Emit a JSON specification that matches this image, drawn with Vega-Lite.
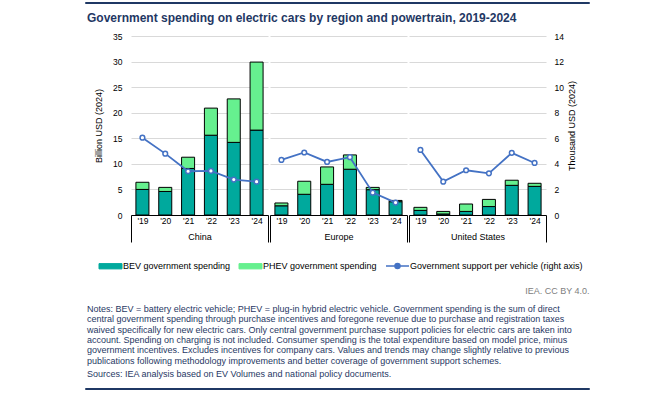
{
  "$schema": "https://vega.github.io/schema/vega-lite/v6.json",
  "background": "white",
  "padding": {"left": 84, "top": 1, "right": 5, "bottom": 2},
  "datasets": {
    "bars": [
      {"region": "China", "yr": "'19", "type": "BEV government spending", "value": 5.0},
      {"region": "China", "yr": "'20", "type": "BEV government spending", "value": 4.6},
      {"region": "China", "yr": "'21", "type": "BEV government spending", "value": 9.1},
      {"region": "China", "yr": "'22", "type": "BEV government spending", "value": 15.6},
      {"region": "China", "yr": "'23", "type": "BEV government spending", "value": 14.2},
      {"region": "China", "yr": "'24", "type": "BEV government spending", "value": 16.6},
      {"region": "China", "yr": "'19", "type": "PHEV government spending", "value": 1.4},
      {"region": "China", "yr": "'20", "type": "PHEV government spending", "value": 0.8},
      {"region": "China", "yr": "'21", "type": "PHEV government spending", "value": 2.2},
      {"region": "China", "yr": "'22", "type": "PHEV government spending", "value": 5.3},
      {"region": "China", "yr": "'23", "type": "PHEV government spending", "value": 8.5},
      {"region": "China", "yr": "'24", "type": "PHEV government spending", "value": 13.3},
      {"region": "Europe", "yr": "'19", "type": "BEV government spending", "value": 1.8},
      {"region": "Europe", "yr": "'20", "type": "BEV government spending", "value": 4.05},
      {"region": "Europe", "yr": "'21", "type": "BEV government spending", "value": 6.0},
      {"region": "Europe", "yr": "'22", "type": "BEV government spending", "value": 8.95},
      {"region": "Europe", "yr": "'23", "type": "BEV government spending", "value": 4.95},
      {"region": "Europe", "yr": "'24", "type": "BEV government spending", "value": 2.6},
      {"region": "Europe", "yr": "'19", "type": "PHEV government spending", "value": 0.55},
      {"region": "Europe", "yr": "'20", "type": "PHEV government spending", "value": 2.55},
      {"region": "Europe", "yr": "'21", "type": "PHEV government spending", "value": 3.4},
      {"region": "Europe", "yr": "'22", "type": "PHEV government spending", "value": 2.8},
      {"region": "Europe", "yr": "'23", "type": "PHEV government spending", "value": 0.45},
      {"region": "Europe", "yr": "'24", "type": "PHEV government spending", "value": 0.25},
      {"region": "United States", "yr": "'19", "type": "BEV government spending", "value": 0.9},
      {"region": "United States", "yr": "'20", "type": "BEV government spending", "value": 0.2},
      {"region": "United States", "yr": "'21", "type": "BEV government spending", "value": 0.7},
      {"region": "United States", "yr": "'22", "type": "BEV government spending", "value": 1.65},
      {"region": "United States", "yr": "'23", "type": "BEV government spending", "value": 5.8},
      {"region": "United States", "yr": "'24", "type": "BEV government spending", "value": 5.6},
      {"region": "United States", "yr": "'19", "type": "PHEV government spending", "value": 0.6},
      {"region": "United States", "yr": "'20", "type": "PHEV government spending", "value": 0.5},
      {"region": "United States", "yr": "'21", "type": "PHEV government spending", "value": 1.45},
      {"region": "United States", "yr": "'22", "type": "PHEV government spending", "value": 1.4},
      {"region": "United States", "yr": "'23", "type": "PHEV government spending", "value": 1.0},
      {"region": "United States", "yr": "'24", "type": "PHEV government spending", "value": 0.6}
    ],
    "support": [
      {"region": "China", "yr": "'19", "support": 6.05},
      {"region": "China", "yr": "'20", "support": 4.8},
      {"region": "China", "yr": "'21", "support": 3.42},
      {"region": "China", "yr": "'22", "support": 3.45},
      {"region": "China", "yr": "'23", "support": 2.77},
      {"region": "China", "yr": "'24", "support": 2.61},
      {"region": "Europe", "yr": "'19", "support": 4.31},
      {"region": "Europe", "yr": "'20", "support": 4.89},
      {"region": "Europe", "yr": "'21", "support": 4.15},
      {"region": "Europe", "yr": "'22", "support": 4.52},
      {"region": "Europe", "yr": "'23", "support": 1.75},
      {"region": "Europe", "yr": "'24", "support": 0.97},
      {"region": "United States", "yr": "'19", "support": 5.09},
      {"region": "United States", "yr": "'20", "support": 2.61},
      {"region": "United States", "yr": "'21", "support": 3.5},
      {"region": "United States", "yr": "'22", "support": 3.26},
      {"region": "United States", "yr": "'23", "support": 4.86},
      {"region": "United States", "yr": "'24", "support": 4.07}
    ]
  },
  "spacing": 8,
  "resolve": {"scale": {"color": "independent"}, "legend": {"color": "independent"}},
  "vconcat": [
    {
      "width": 504, "height": 1,
      "data": {"values": []},
      "mark": {"type": "rule"},
      "encoding": {},
      "view": {"stroke": "#1f3864", "strokeWidth": 1}
    },
    {
      "title": {
        "text": "Government spending on electric cars by region and powertrain, 2019-2024",
        "anchor": "start", "frame": "bounds", "fontSize": 12, "fontWeight": "bold",
        "color": "#1f3864", "offset": 7, "dx": 2
      },
      "spacing": 0,
      "hconcat": [
        {
          "width": 9, "height": 179,
          "data": {"values": []},
          "mark": {"type": "rule"},
          "encoding": {}
        },
        {
          "width": 137, "height": 179,
          "layer": [
            {
              "data": {"name": "bars"},
              "transform": [{"filter": "datum.region === 'China'"}],
              "mark": {"type": "bar", "stroke": "black", "strokeWidth": 1, "width": {"band": 0.57}},
              "encoding": {
                "x": {"field": "yr", "type": "ordinal", "scale": {"paddingInner": 0, "paddingOuter": 0},
                  "axis": {"title": "China", "labelAngle": 0, "labelPadding": -26, "domainColor": "black", "ticks": true, "tickBand": "extent", "tickSize": 27, "tickColor": "black", "tickWidth": 1,
                    "tickOpacity": {"condition": {"test": "isValid(datum.value) && datum.value !== \"'24\"", "value": 0}, "value": 1},
                    "titleY": 21, "titleBaseline": "middle", "grid": false}},
                "y": {"field": "value", "type": "quantitative", "stack": "zero", "scale": {"domain": [0, 35]},
                  "axis": {"title": "Billion USD (2024)", "values": [0, 5, 10, 15, 20, 25, 30, 35], "domain": false, "ticks": false, "grid": true, "gridColor": "#d9d9d9", "labelPadding": 9, "titlePadding": 9}},
                "order": {"field": "type", "type": "nominal", "sort": "ascending"},
                "color": {"field": "type", "type": "nominal",
                  "scale": {"domain": ["BEV government spending", "PHEV government spending", "Government support per vehicle (right axis)"], "range": ["#00a99d", "#66f08f", "#4472c4"]},
                  "legend": {"orient": "none", "legendX": 21, "legendY": 225, "direction": "horizontal", "title": null, "labelFontSize": 9, "labelLimit": 400, "symbolSize": 529, "labelOffset": 8, "columnPadding": 6,
                    "encode": {"symbols": {"update": {
                      "shape": {"signal": "datum.value === 'Government support per vehicle (right axis)' ? 'M-1,0H-0.22M0.22,0H1M-0.22,0A0.22,0.22,0,1,1,0.22,0A0.22,0.22,0,1,1,-0.22,0' : 'M-1,-0.23H1V0.23H-1Z'"},
                      "fill": {"signal": "datum.value === 'Government support per vehicle (right axis)' ? 'white' : (datum.value === 'BEV government spending' ? '#00a99d' : '#66f08f')"},
                      "stroke": {"signal": "datum.value === 'Government support per vehicle (right axis)' ? '#4472c4' : 'black'"},
                      "strokeWidth": {"signal": "datum.value === 'Government support per vehicle (right axis)' ? 1.5 : 1"},
                      "opacity": {"value": 1}
                    }}}}
                }
              }
            },
            {
              "data": {"name": "support"},
              "transform": [{"filter": "datum.region === 'China'"}],
              "mark": {"type": "line", "strokeWidth": 1.8},
              "encoding": {
                "x": {"field": "yr", "type": "ordinal"},
                "y": {"field": "support", "type": "quantitative", "scale": {"domain": [0, 14]}, "axis": null},
                "color": {"datum": "Government support per vehicle (right axis)", "type": "nominal",
                  "legend": {"orient": "none", "legendX": 21, "legendY": 225, "direction": "horizontal", "title": null, "labelFontSize": 9, "labelLimit": 400, "symbolSize": 529, "labelOffset": 8, "columnPadding": 6,
                    "encode": {"symbols": {"update": {
                      "shape": {"signal": "datum.value === 'Government support per vehicle (right axis)' ? 'M-1,0H-0.22M0.22,0H1M-0.22,0A0.22,0.22,0,1,1,0.22,0A0.22,0.22,0,1,1,-0.22,0' : 'M-1,-0.23H1V0.23H-1Z'"},
                      "fill": {"signal": "datum.value === 'Government support per vehicle (right axis)' ? 'white' : (datum.value === 'BEV government spending' ? '#00a99d' : '#66f08f')"},
                      "stroke": {"signal": "datum.value === 'Government support per vehicle (right axis)' ? '#4472c4' : 'black'"},
                      "strokeWidth": {"signal": "datum.value === 'Government support per vehicle (right axis)' ? 1.5 : 1"},
                      "opacity": {"value": 1}
                    }}}}}
              }
            },
            {
              "data": {"name": "support"},
              "transform": [{"filter": "datum.region === 'China'"}],
              "mark": {"type": "point", "filled": true, "fill": "white", "stroke": "#4472c4", "strokeWidth": 1.5, "size": 22, "opacity": 1},
              "encoding": {
                "x": {"field": "yr", "type": "ordinal"},
                "y": {"field": "support", "type": "quantitative", "scale": {"domain": [0, 14]}, "axis": null}
              }
            }
          ],
          "resolve": {"scale": {"y": "independent"}}
        },
        {
          "width": 137, "height": 179,
          "layer": [
            {
              "data": {"name": "bars"},
              "transform": [{"filter": "datum.region === 'Europe'"}],
              "mark": {"type": "bar", "stroke": "black", "strokeWidth": 1, "width": {"band": 0.57}},
              "encoding": {
                "x": {"field": "yr", "type": "ordinal", "scale": {"paddingInner": 0, "paddingOuter": 0},
                  "axis": {"title": "Europe", "labelAngle": 0, "labelPadding": -26, "domainColor": "black", "ticks": true, "tickBand": "extent", "tickSize": 27, "tickColor": "black", "tickWidth": 1,
                    "tickOpacity": {"condition": {"test": "isValid(datum.value) && datum.value !== \"'24\"", "value": 0}, "value": 1},
                    "titleY": 21, "titleBaseline": "middle", "grid": false}},
                "y": {"field": "value", "type": "quantitative", "stack": "zero", "scale": {"domain": [0, 35]},
                  "axis": {"title": null, "values": [0, 5, 10, 15, 20, 25, 30, 35], "labels": false, "domain": false, "ticks": false, "grid": true, "gridColor": "#d9d9d9"}},
                "order": {"field": "type", "type": "nominal", "sort": "ascending"},
                "color": {"field": "type", "type": "nominal",
                  "scale": {"domain": ["BEV government spending", "PHEV government spending", "Government support per vehicle (right axis)"], "range": ["#00a99d", "#66f08f", "#4472c4"]}}
              }
            },
            {
              "data": {"name": "support"},
              "transform": [{"filter": "datum.region === 'Europe'"}],
              "mark": {"type": "line", "strokeWidth": 1.8},
              "encoding": {
                "x": {"field": "yr", "type": "ordinal"},
                "y": {"field": "support", "type": "quantitative", "scale": {"domain": [0, 14]}, "axis": null},
                "color": {"datum": "Government support per vehicle (right axis)", "type": "nominal"}
              }
            },
            {
              "data": {"name": "support"},
              "transform": [{"filter": "datum.region === 'Europe'"}],
              "mark": {"type": "point", "filled": true, "fill": "white", "stroke": "#4472c4", "strokeWidth": 1.5, "size": 22, "opacity": 1},
              "encoding": {
                "x": {"field": "yr", "type": "ordinal"},
                "y": {"field": "support", "type": "quantitative", "scale": {"domain": [0, 14]}, "axis": null}
              }
            }
          ],
          "resolve": {"scale": {"y": "independent"}}
        },
        {
          "width": 137, "height": 179,
          "layer": [
            {
              "data": {"name": "bars"},
              "transform": [{"filter": "datum.region === 'United States'"}],
              "mark": {"type": "bar", "stroke": "black", "strokeWidth": 1, "width": {"band": 0.57}},
              "encoding": {
                "x": {"field": "yr", "type": "ordinal", "scale": {"paddingInner": 0, "paddingOuter": 0},
                  "axis": {"title": "United States", "labelAngle": 0, "labelPadding": -26, "domainColor": "black", "ticks": true, "tickBand": "extent", "tickSize": 27, "tickColor": "black", "tickWidth": 1,
                    "tickOpacity": {"condition": {"test": "isValid(datum.value) && datum.value !== \"'24\"", "value": 0}, "value": 1},
                    "titleY": 21, "titleBaseline": "middle", "grid": false}},
                "y": {"field": "value", "type": "quantitative", "stack": "zero", "scale": {"domain": [0, 35]},
                  "axis": {"title": null, "values": [0, 5, 10, 15, 20, 25, 30, 35], "labels": false, "domain": false, "ticks": false, "grid": true, "gridColor": "#d9d9d9"}},
                "order": {"field": "type", "type": "nominal", "sort": "ascending"},
                "color": {"field": "type", "type": "nominal",
                  "scale": {"domain": ["BEV government spending", "PHEV government spending", "Government support per vehicle (right axis)"], "range": ["#00a99d", "#66f08f", "#4472c4"]}}
              }
            },
            {
              "data": {"name": "support"},
              "transform": [{"filter": "datum.region === 'United States'"}],
              "mark": {"type": "line", "strokeWidth": 1.8},
              "encoding": {
                "x": {"field": "yr", "type": "ordinal"},
                "y": {"field": "support", "type": "quantitative", "scale": {"domain": [0, 14]},
                  "axis": {"orient": "right", "title": "Thousand USD (2024)", "titleAngle": 270, "titleX": 25, "titleY": 89.5, "titleBaseline": "middle", "titleAlign": "center", "values": [0, 2, 4, 6, 8, 10, 12, 14], "domain": false, "ticks": false, "grid": false, "labelPadding": 8}},
                "color": {"datum": "Government support per vehicle (right axis)", "type": "nominal"}
              }
            },
            {
              "data": {"name": "support"},
              "transform": [{"filter": "datum.region === 'United States'"}],
              "mark": {"type": "point", "filled": true, "fill": "white", "stroke": "#4472c4", "strokeWidth": 1.5, "size": 22, "opacity": 1},
              "encoding": {
                "x": {"field": "yr", "type": "ordinal"},
                "y": {"field": "support", "type": "quantitative", "scale": {"domain": [0, 14]}, "axis": null}
              }
            }
          ],
          "resolve": {"scale": {"y": "independent"}}
        }
      ]
    },
    {
      "width": 504, "height": 1,
      "data": {"values": [{"v": 0}]},
      "mark": {"type": "rule", "opacity": 0},
      "encoding": {
        "x": {"field": "v", "type": "quantitative",
          "axis": {"title": "IEA. CC BY 4.0.", "titleAnchor": "end", "titleColor": "#808080", "titleFontSize": 9, "labels": false, "ticks": false, "domain": false, "grid": false, "titlePadding": 5}}
      },
      "title": {
        "text": [
          "Notes: BEV = battery electric vehicle; PHEV = plug-in hybrid electric vehicle. Government spending is the sum of direct",
          "central government spending through purchase incentives and foregone revenue due to purchase and registration taxes",
          "waived specifically for new electric cars. Only central government purchase support policies for electric cars are taken into",
          "account. Spending on charging is not included. Consumer spending is the total expenditure based on model price, minus",
          "government incentives. Excludes incentives for company cars. Values and trends may change slightly relative to previous",
          "publications following methodology improvements and better coverage of government support schemes."
        ],
        "subtitle": "Sources: IEA analysis based on EV Volumes and national policy documents.",
        "orient": "bottom", "anchor": "start", "frame": "group", "dx": 2,
        "fontSize": 9, "fontWeight": "normal", "color": "#1f3864", "lineHeight": 10.3,
        "subtitleFontSize": 9, "subtitleColor": "#1f3864", "subtitlePadding": 4, "offset": 10
      }
    },
    {
      "width": 504, "height": 1,
      "data": {"values": []},
      "mark": {"type": "rule"},
      "encoding": {},
      "view": {"stroke": "#1f3864", "strokeWidth": 1}
    }
  ],
  "config": {
    "font": "Liberation Sans",
    "view": {"stroke": null},
    "axis": {"labelFontSize": 8.5, "labelColor": "#000000", "titleFontSize": 9, "titleFontWeight": "normal", "titleColor": "#000000"},
    "legend": {"labelColor": "#000000"},
    "title": {"font": "Liberation Sans"}
  }
}
